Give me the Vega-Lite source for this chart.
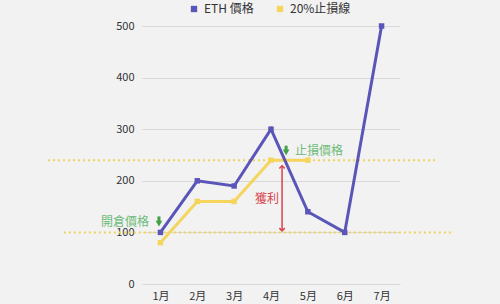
{
  "$schema": "https://vega.github.io/schema/vega-lite/v6.json",
  "autosize": {"type": "none"},
  "width": 258,
  "height": 258,
  "padding": {"left": 142, "top": 26, "right": 100, "bottom": 20},
  "background": "#f2f2f2",
  "config": {
    "view": {"stroke": null},
    "font": "Noto Sans CJK TC",
    "axis": {"labelFont": "Noto Sans CJK TC", "labelColor": "#333333", "labelFontSize": 11}
  },
  "datasets": {
    "series": [
      {"month": 1, "value": 100, "series": "ETH 價格"},
      {"month": 2, "value": 200, "series": "ETH 價格"},
      {"month": 3, "value": 190, "series": "ETH 價格"},
      {"month": 4, "value": 300, "series": "ETH 價格"},
      {"month": 5, "value": 140, "series": "ETH 價格"},
      {"month": 6, "value": 100, "series": "ETH 價格"},
      {"month": 7, "value": 500, "series": "ETH 價格"},
      {"month": 1, "value": 80, "series": "20%止損線"},
      {"month": 2, "value": 160, "series": "20%止損線"},
      {"month": 3, "value": 160, "series": "20%止損線"},
      {"month": 4, "value": 240, "series": "20%止損線"},
      {"month": 5, "value": 240, "series": "20%止損線"}
    ],
    "levels": [
      {"from": -2.05, "to": 8.53, "value": 240},
      {"from": -1.62, "to": 8.91, "value": 100}
    ],
    "entryLabel": [{"month": 0.69, "value": 121, "text": "開倉價格"}],
    "profitLabel": [{"month": 4.22, "value": 165, "text": "獲利"}],
    "stopLabel": [{"month": 4.65, "value": 257, "text": "止損價格"}],
    "arrows": [
      {"month": 0.96, "top": 131, "mid": 119, "head": 117},
      {"month": 4.41, "top": 268, "mid": 257, "head": 255}
    ],
    "profit": [{"month": 4.3, "top": 229, "bottom": 103}]
  },
  "layer": [
    {
      "data": {"name": "levels"},
      "mark": {"type": "rule", "color": "#efd35a", "strokeWidth": 2, "strokeDash": [2, 3]},
      "encoding": {
        "x": {"field": "from", "type": "quantitative", "scale": {"domain": [0.5, 7.5]},
              "axis": {"values": [1, 2, 3, 4, 5, 6, 7], "labelExpr": "datum.value + '月'", "title": null, "domain": false, "ticks": false, "grid": false, "labelPadding": 6}},
        "x2": {"field": "to"},
        "y": {"field": "value", "type": "quantitative", "scale": {"domain": [0, 500]},
              "axis": {"values": [0, 100, 200, 300, 400, 500], "title": null, "domain": false, "ticks": false, "gridColor": "#d9d9d9", "labelPadding": 8}}
      }
    },
    {
      "data": {"name": "series"},
      "transform": [{"filter": "datum.series === '20%止損線'"}],
      "mark": {"type": "line", "strokeWidth": 3, "point": {"shape": "square", "size": 30, "filled": true}},
      "encoding": {
        "x": {"field": "month", "type": "quantitative"},
        "y": {"field": "value", "type": "quantitative"},
        "color": {"field": "series", "type": "nominal",
                  "scale": {"domain": ["ETH 價格", "20%止損線"], "range": ["#5a55b8", "#f5d55c"]},
                  "legend": {"title": null, "orient": "none", "direction": "horizontal", "legendX": 46, "legendY": -23,
                             "symbolType": "square", "symbolSize": 40, "labelFontSize": 12, "labelColor": "#333333",
                             "labelFont": "Noto Sans CJK TC", "columnPadding": 20, "symbolStrokeWidth": 0, "padding": 0}}
      }
    },
    {
      "data": {"name": "series"},
      "transform": [{"filter": "datum.series === 'ETH 價格'"}],
      "mark": {"type": "line", "strokeWidth": 3, "point": {"shape": "square", "size": 30, "filled": true}},
      "encoding": {
        "x": {"field": "month", "type": "quantitative"},
        "y": {"field": "value", "type": "quantitative"},
        "color": {"field": "series", "type": "nominal"}
      }
    },
    {
      "data": {"name": "profit"},
      "mark": {"type": "rule", "color": "#d9434a", "strokeWidth": 1.5},
      "encoding": {
        "x": {"field": "month", "type": "quantitative"},
        "y": {"field": "top", "type": "quantitative"},
        "y2": {"field": "bottom"}
      }
    },
    {
      "data": {"name": "profit"},
      "mark": {"type": "point", "shape": "M-1,1L0,0L1,1", "size": 30, "filled": false, "color": "#d9434a", "strokeWidth": 1.5, "opacity": 1},
      "encoding": {
        "x": {"field": "month", "type": "quantitative"},
        "y": {"field": "top", "type": "quantitative"}
      }
    },
    {
      "data": {"name": "profit"},
      "mark": {"type": "point", "shape": "M-1,-1L0,0L1,-1", "size": 30, "filled": false, "color": "#d9434a", "strokeWidth": 1.5, "opacity": 1},
      "encoding": {
        "x": {"field": "month", "type": "quantitative"},
        "y": {"field": "bottom", "type": "quantitative"}
      }
    },
    {
      "data": {"name": "arrows"},
      "mark": {"type": "rule", "color": "#43a047", "strokeWidth": 3},
      "encoding": {
        "x": {"field": "month", "type": "quantitative"},
        "y": {"field": "top", "type": "quantitative"},
        "y2": {"field": "mid"}
      }
    },
    {
      "data": {"name": "arrows"},
      "mark": {"type": "point", "shape": "triangle-down", "size": 45, "filled": true, "color": "#43a047", "opacity": 1},
      "encoding": {
        "x": {"field": "month", "type": "quantitative"},
        "y": {"field": "head", "type": "quantitative"}
      }
    },
    {
      "data": {"name": "entryLabel"},
      "mark": {"type": "text", "fontSize": 12, "baseline": "middle", "align": "right", "font": "Noto Sans CJK TC", "color": "#6dbb78"},
      "encoding": {
        "x": {"field": "month", "type": "quantitative"},
        "y": {"field": "value", "type": "quantitative"},
        "text": {"field": "text"}
      }
    },
    {
      "data": {"name": "profitLabel"},
      "mark": {"type": "text", "fontSize": 12, "baseline": "middle", "align": "right", "font": "Noto Sans CJK TC", "color": "#d9434a"},
      "encoding": {
        "x": {"field": "month", "type": "quantitative"},
        "y": {"field": "value", "type": "quantitative"},
        "text": {"field": "text"}
      }
    },
    {
      "data": {"name": "stopLabel"},
      "mark": {"type": "text", "fontSize": 12, "baseline": "middle", "align": "left", "font": "Noto Sans CJK TC", "color": "#6dbb78"},
      "encoding": {
        "x": {"field": "month", "type": "quantitative"},
        "y": {"field": "value", "type": "quantitative"},
        "text": {"field": "text"}
      }
    }
  ]
}
